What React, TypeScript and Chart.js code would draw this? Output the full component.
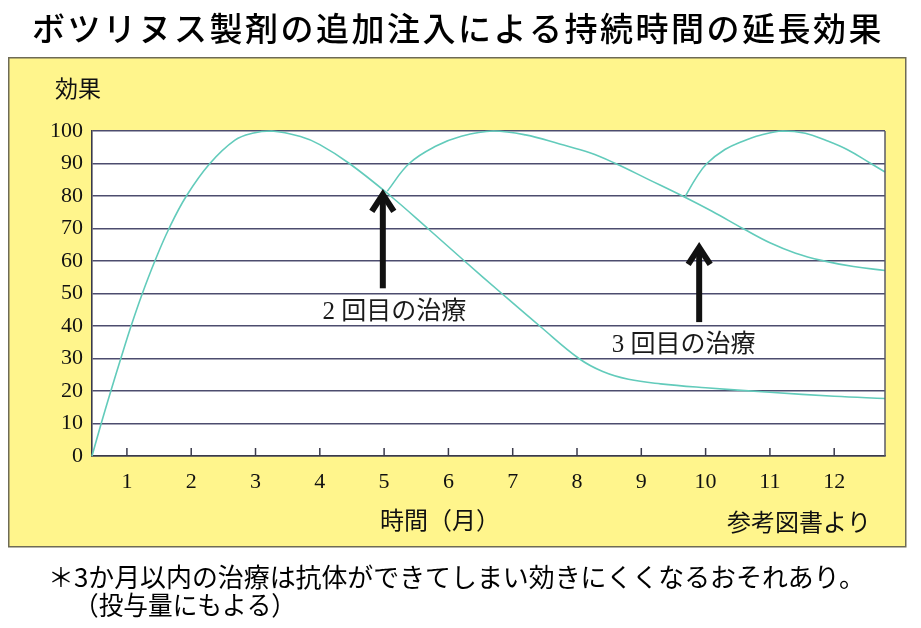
import React, { useEffect, useRef } from "react";
import { Chart, registerables } from "chart.js";

Chart.register(...registerables);

// ---- data ----
const xTicks = [1, 2, 3, 4, 5, 6, 7, 8, 9, 10, 11, 12];
const xMin = 0.457;
const xMax = 12.79;
const yMin = 0;
const yMax = 100;
const yStep = 10;

// first treatment
const firstMonths = [0.457, 0.6, 0.75, 0.905, 1.065, 1.24, 1.435, 1.655, 1.925, 2.29, 2.68, 2.95, 3.25, 3.7, 4.0, 4.46, 5.1, 5.68, 6.25, 6.83, 7.42, 8.03, 8.4, 8.8, 9.3, 10.0, 11.0, 12.0, 12.79];
const firstEffect = [0, 10, 20, 30, 40, 50, 60, 70, 80, 90, 97.2, 99.3, 100, 98.3, 95.8, 90, 80, 70, 60, 50, 40, 30, 26, 23.6, 22.2, 21, 19.6, 18.4, 17.7];

// second treatment
const secondMonths = [5.05, 5.39, 5.8, 6.2, 6.7, 7.2, 7.73, 8.2, 8.6, 9.1, 9.64, 10.1, 10.58, 11.0, 11.4, 11.8, 12.3, 12.79];
const secondEffect = [81.5, 90, 95.3, 98.4, 100, 98.8, 96, 93.3, 90, 85.2, 80, 75.3, 70, 65.6, 62.4, 60.2, 58.3, 57.1];

// third treatment
const thirdMonths = [9.68, 9.85, 10.02, 10.3, 10.57, 10.85, 11.2, 11.55, 11.86, 12.2, 12.57, 12.79];
const thirdEffect = [79.7, 85.5, 90, 94.3, 96.8, 98.7, 100, 99.3, 97.2, 94.3, 90, 87.4];

// annotations (arrows + labels) in data units
const arrowMonths = [4.98, 9.9];
const arrowBase = [51.6, 41.2];
const arrowTip = [81.7, 65.4];
const treatmentLabels = ["2 回目の治療", "3 回目の治療"];
const labelMonths = [5.16, 9.66];
const labelEffect = [44.2, 34.1];

const titleText = "ボツリヌス製剤の追加注入による持続時間の延長効果";
const yTitle = "効果";
const xTitle = "時間（月）";
const sourceText = "参考図書より";
const noteLine1 = "＊3か月以内の治療は抗体ができてしまい効きにくくなるおそれあり。";
const noteLine2 = "（投与量にもよる）";

const CURVE = "#62cbbb";
const GRID = "#4c4c6e";
const JP = "'Noto Sans CJK JP', 'Noto Sans', sans-serif";
const SERIF = "'Liberation Serif', 'DejaVu Serif', serif";

const toPts = (xs: number[], ys: number[]) => xs.map((x, i) => ({ x, y: ys[i] }));

const decor = {
  id: "decor",
  beforeDraw(chart: any) {
    const ctx = chart.ctx;
    const { left, right, top, bottom } = chart.chartArea;
    ctx.save();
    ctx.fillStyle = "#ffffff";
    ctx.fillRect(0, 0, chart.width, chart.height);
    ctx.fillStyle = "#fff58c";
    ctx.fillRect(8, 57, 898, 490);
    ctx.strokeStyle = "#6e6b55";
    ctx.lineWidth = 1.5;
    ctx.strokeRect(8.75, 57.75, 897, 489);
    ctx.fillStyle = "#ffffff";
    ctx.fillRect(left, top, right - left, bottom - top);
    ctx.restore();
  },
  afterDraw(chart: any) {
    const ctx = chart.ctx;
    const xs = chart.scales.x;
    const ys = chart.scales.y;
    const { right, top, bottom } = chart.chartArea;
    ctx.save();
    // right border
    ctx.strokeStyle = "#5a5a66";
    ctx.lineWidth = 1.5;
    ctx.beginPath();
    ctx.moveTo(right, top);
    ctx.lineTo(right, bottom);
    ctx.stroke();
    // inward x ticks
    ctx.strokeStyle = "#3a3a4a";
    ctx.lineWidth = 1.5;
    xTicks.forEach((v) => {
      const px = xs.getPixelForValue(v);
      ctx.beginPath();
      ctx.moveTo(px, bottom);
      ctx.lineTo(px, bottom - 8);
      ctx.stroke();
    });
    // arrows
    ctx.strokeStyle = "#111";
    ctx.lineWidth = 6;
    arrowMonths.forEach((m, i) => {
      const px = xs.getPixelForValue(m);
      const yb = ys.getPixelForValue(arrowBase[i]);
      const yt = ys.getPixelForValue(arrowTip[i]);
      ctx.lineCap = "butt";
      ctx.beginPath();
      ctx.moveTo(px, yb);
      ctx.lineTo(px, yt + 5);
      ctx.stroke();
      ctx.lineJoin = "miter";
      ctx.beginPath();
      ctx.moveTo(px - 11, yt + 21);
      ctx.lineTo(px, yt + 4);
      ctx.lineTo(px + 11, yt + 21);
      ctx.stroke();
    });
    // treatment labels
    ctx.fillStyle = "#1a1a1a";
    ctx.font = `25px 'Liberation Serif', ${JP}`;
    ctx.textAlign = "center";
    ctx.textBaseline = "middle";
    treatmentLabels.forEach((t, i) => {
      ctx.fillText(t, xs.getPixelForValue(labelMonths[i]), ys.getPixelForValue(labelEffect[i]));
    });
    // title
    ctx.fillStyle = "#000";
    ctx.font = `500 33px ${JP}`;
    ctx.textAlign = "left";
    ctx.textBaseline = "middle";
    (ctx as any).letterSpacing = "2.5px";
    ctx.fillText(titleText, 32, 28, 852);
    (ctx as any).letterSpacing = "0px";
    // axis titles / source
    ctx.fillStyle = "#111";
    ctx.font = `23px ${JP}`;
    ctx.textAlign = "center";
    ctx.fillText(yTitle, 78, 88);
    ctx.font = `24px ${JP}`;
    ctx.textAlign = "left";
    ctx.fillText(xTitle, 380, 520);
    ctx.fillText(sourceText, 727, 522);
    // footnote
    ctx.fillStyle = "#000";
    ctx.font = `26px ${JP}`;
    ctx.fillText(noteLine1, 48, 577, 817);
    ctx.fillText(noteLine2, 74, 605, 222);
    ctx.restore();
  },
};

export default function App() {
  const ref = useRef<HTMLCanvasElement>(null);
  useEffect(() => {
    document.body.style.margin = "0";
    const chart = new Chart(ref.current as HTMLCanvasElement, {
      type: "line",
      data: {
        datasets: [
          { data: toPts(firstMonths, firstEffect) },
          { data: toPts(secondMonths, secondEffect) },
          { data: toPts(thirdMonths, thirdEffect) },
        ].map((d) => ({
          ...d,
          borderColor: CURVE,
          borderWidth: 1.6,
          pointRadius: 0,
          fill: false,
          tension: 0.4,
          clip: 3,
        })),
      },
      options: {
        responsive: false,
        animation: false,
        events: [],
        layout: { padding: { left: 0, right: 36, top: 131, bottom: 132 } },
        plugins: { legend: { display: false }, tooltip: { enabled: false }, title: { display: false } },
        scales: {
          x: {
            type: "linear",
            min: xMin,
            max: xMax,
            afterBuildTicks: (s: any) => {
              s.ticks = xTicks.map((v) => ({ value: v }));
            },
            afterFit: (s: any) => {
              s.height = 40;
            },
            grid: { display: false, drawTicks: false },
            border: { display: true, color: "#3a3a4a", width: 1.6 },
            ticks: {
              color: "#111",
              font: { family: SERIF, size: 22 },
              padding: 13,
              maxRotation: 0,
              autoSkip: false,
              callback: (v: any) => String(v),
            },
          },
          y: {
            min: yMin,
            max: yMax,
            afterFit: (s: any) => {
              s.width = 92;
            },
            grid: { color: GRID, lineWidth: 1.6, drawTicks: false },
            border: { display: true, color: "#3a3a4a", width: 1.6 },
            ticks: {
              stepSize: yStep,
              color: "#111",
              font: { family: SERIF, size: 22 },
              padding: 9,
            },
          },
        },
      },
      plugins: [decor],
    } as any);
    return () => chart.destroy();
  }, []);
  return (
    <div style={{ position: "absolute", left: 0, top: 0, width: 921, height: 628, background: "#fff" }}>
      <canvas ref={ref} width={921} height={628} style={{ display: "block", width: 921, height: 628 }} />
    </div>
  );
}
